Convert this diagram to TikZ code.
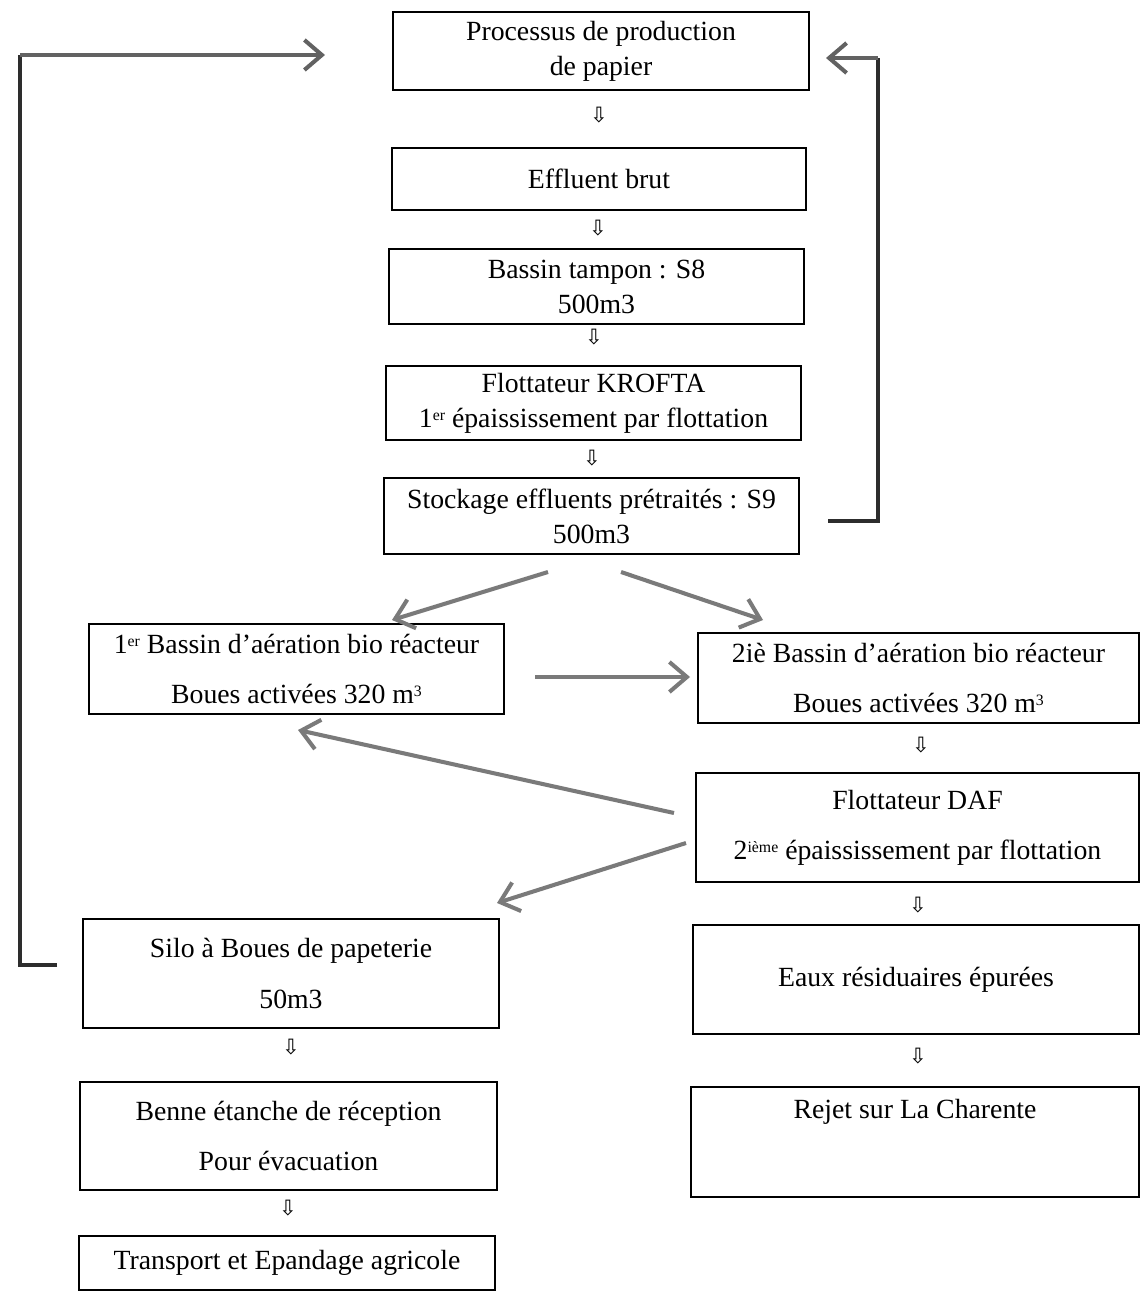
\documentclass[tikz,border=0pt]{standalone}
\usepackage{fontspec}
\setmainfont{Liberation Serif}
\newfontfamily\arrowfont{DejaVu Sans}
\usetikzlibrary{arrows.meta,calc}
\definecolor{arrgray}{RGB}{122,122,122}
\definecolor{loopdark}{RGB}{45,45,45}
\newcommand\supx[1]{\raisebox{0.55ex}{\fontsize{9}{9}\selectfont #1}}
\begin{document}
\begin{tikzpicture}[x=0.02cm,y=-0.02cm,
  box/.style={draw=black,line width=0.8pt,inner sep=0pt,align=center,font=\fontsize{15.8}{20}\selectfont},
  dn/.style={font=\arrowfont\fontsize{12}{12}\selectfont,inner sep=0pt},
  garrow/.style={draw=arrgray,line width=2.3pt,-{Straight Barb[length=0.35cm,width=0.6cm]}},
  loopline/.style={draw=loopdark,line width=1.8pt,line join=miter}]
\useasboundingbox[fill=white] (0,0) rectangle (1141,1293);

% main column
\node[box,minimum width=8.32cm,minimum height=1.56cm] (proc) at (601,51) {Processus de production\\de papier};
\node[box,minimum width=8.28cm,minimum height=1.24cm] (eff) at (599,179) {Effluent brut};
\node[box,minimum width=8.30cm,minimum height=1.50cm] (tamp) at (596.5,286.5) {Bassin tampon : S8\\500m3};
\node[box,minimum width=8.30cm,minimum height=1.48cm] (krof) at (593.5,403) {Flottateur KROFTA\\1\supx{er} épaississement par flottation};
\node[box,minimum width=8.30cm,minimum height=1.52cm] (stock) at (591.5,516) {Stockage effluents prétraités : S9\\500m3};

% left column
\node[box,minimum width=8.30cm,minimum height=1.80cm] (bas1) at (296.5,669) {1\supx{er} Bassin d’aération bio réacteur\\[0.3cm]Boues activées 320 m\supx{3}};
\node[box,minimum width=8.32cm,minimum height=2.18cm] (silo) at (291,973.5) {Silo à Boues de papeterie\\[0.3cm]50m3};
\node[box,minimum width=8.34cm,minimum height=2.16cm] (benne) at (288.5,1136) {Benne étanche de réception\\[0.3cm]Pour évacuation};
\node[box,minimum width=8.32cm,minimum height=1.08cm] (trans) at (287,1263) {Transport et Epandage agricole};

% right column
\node[box,minimum width=8.82cm,minimum height=1.80cm] (bas2) at (918.5,678) {2iè Bassin d’aération bio réacteur\\[0.3cm]Boues activées 320 m\supx{3}};
\node[box,minimum width=8.86cm,minimum height=2.18cm] (daf) at (917.5,827.5) {Flottateur DAF\\[0.3cm]2\supx{ième} épaississement par flottation};
\node[box,minimum width=8.92cm,minimum height=2.18cm] (eaux) at (916,979.5) {Eaux résiduaires épurées};
\node[box,minimum width=8.96cm,minimum height=2.20cm,text height=0.38cm,text depth=1.34cm] (rejet) at (915,1142) {Rejet sur La Charente};

% small down arrows
\node[dn] (d1) at (599,115) {⇩};
\node[dn] (d2) at (598,228) {⇩};
\node[dn] (d3) at (594,337) {⇩};
\node[dn] (d4) at (592,458) {⇩};
\node[dn] (d5) at (921,745) {⇩};
\node[dn] (d6) at (918,905) {⇩};
\node[dn] (d7) at (918,1056) {⇩};
\node[dn] (d8) at (291,1047) {⇩};
\node[dn] (d9) at (288,1208) {⇩};

% free ends of the grey arrows
\coordinate (s1) at (548,572);
\coordinate (t1) at (392,620);
\coordinate (s2) at (621,572);
\coordinate (t2) at (763,620);
\coordinate (s3) at (535,677);
\coordinate (t3) at (690,677);
\coordinate (s4) at (674,813);
\coordinate (t4) at (298,730);
\coordinate (s5) at (686,843);
\coordinate (t5) at (497,903);

\draw[garrow] (s1) -- (t1);
\draw[garrow] (s2) -- (t2);
\draw[garrow] (s3) -- (t3);
\draw[garrow] (s4) -- (t4);
\draw[garrow] (s5) -- (t5);

% left recycling loop (silo -> process)
\coordinate (lA) at (57,965);
\coordinate (lB) at (20,965);
\coordinate (lC) at (20,55);
\coordinate (lD) at (325,55);
\draw[loopline] (lA) -- (lB) -- (lC);
\draw[garrow,draw=arrgray!80!black] (lC) -- (lD);

% right recycling loop (stockage -> process)
\coordinate (rA) at (828,521);
\coordinate (rB) at (878,521);
\coordinate (rC) at (878,58);
\coordinate (rD) at (826,58);
\draw[loopline] (rA) -- (rB) -- (rC);
\draw[garrow,draw=arrgray!80!black] (rC) -- (rD);
\end{tikzpicture}
\end{document}
